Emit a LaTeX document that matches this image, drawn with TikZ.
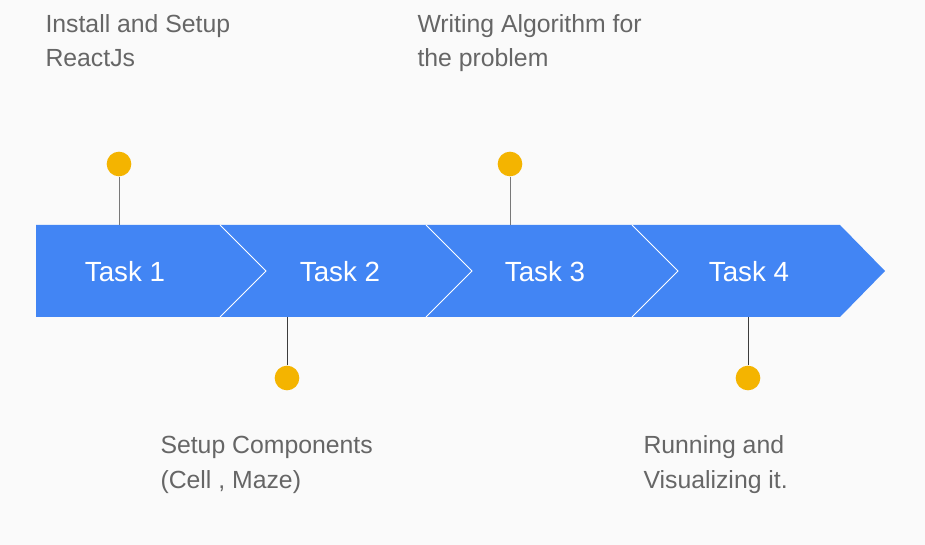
\documentclass[tikz,border=0pt]{standalone}
\usepackage{fontspec}
\setmainfont{Liberation Sans}
\definecolor{barblue}{RGB}{66,133,244}
\definecolor{dotyellow}{RGB}{244,180,0}
\definecolor{notegray}{RGB}{102,102,102}
\definecolor{bggray}{RGB}{250,250,250}
\tikzset{every picture/.style={line width=0.75pt}}
\tikzset{
  taskname/.style={text=white, font=\fontsize{20.8}{24}\selectfont, inner sep=0pt, anchor=base},
  note/.style={text=notegray, font=\fontsize{18.6}{25.9}\selectfont, align=left, inner sep=0pt, anchor=base west},
  milestone/.style={circle, fill=dotyellow, minimum size=18.5pt, inner sep=0pt},
  stemup/.style={draw={rgb,255:red,120;green,120;blue,120}},
  stemdown/.style={draw={rgb,255:red,60;green,60;blue,60}},
  chevron/.style={draw=white, line width=0.75pt}
}

\begin{document}
\begin{tikzpicture}[x=0.75pt,y=0.75pt,yscale=-1,xscale=1]
%set diagram left start at 0, and has height of 545
\fill [bggray] (0,0) rectangle (925,545);
\useasboundingbox (0,0) rectangle (925,545);

%Shape: Arrow bar
\fill [barblue] (36,225) -- (840,225) -- (885,271) -- (840,317) -- (36,317) -- cycle ;
\coordinate (bartop) at (36,225);
\coordinate (barbot) at (36,317);
%Shape: Chevron separators
\draw [chevron] (220,225) -- (266,271) -- (220,317) ;
\draw [chevron] (426,225) -- (472,271) -- (426,317) ;
\draw [chevron] (632,225) -- (678,271) -- (632,317) ;

%Text: task names
\node [taskname] (task1) at (125,282) {Task 1};
\node [taskname] (task2) at (340,282) {Task 2};
\node [taskname] (task3) at (545,282) {Task 3};
\node [taskname] (task4) at (749,282) {Task 4};

%Shape: milestones
\node [milestone] (dot1) at (119,164) {};
\node [milestone] (dot2) at (287,378) {};
\node [milestone] (dot3) at (510,164) {};
\node [milestone] (dot4) at (748,378) {};
\draw [stemup] (dot1.south) -- (dot1.south |- bartop) ;
\draw [stemdown] (dot2.north) -- (dot2.north |- barbot) ;
\draw [stemup] (dot3.south) -- (dot3.south |- bartop) ;
\draw [stemdown] (dot4.north) -- (dot4.north |- barbot) ;

%Text: notes (anchored at the baseline of their last line)
\node [note] (note1) at (45,67) {Install and Setup\\ReactJs};
\node [note] (note2) at (160,488) {Setup Components\\(Cell , Maze)};
\node [note] (note3) at (417,67) {Writing Algorithm for\\the problem};
\node [note] (note4) at (643,488) {Running and\\Visualizing it.};

\end{tikzpicture}
\end{document}
